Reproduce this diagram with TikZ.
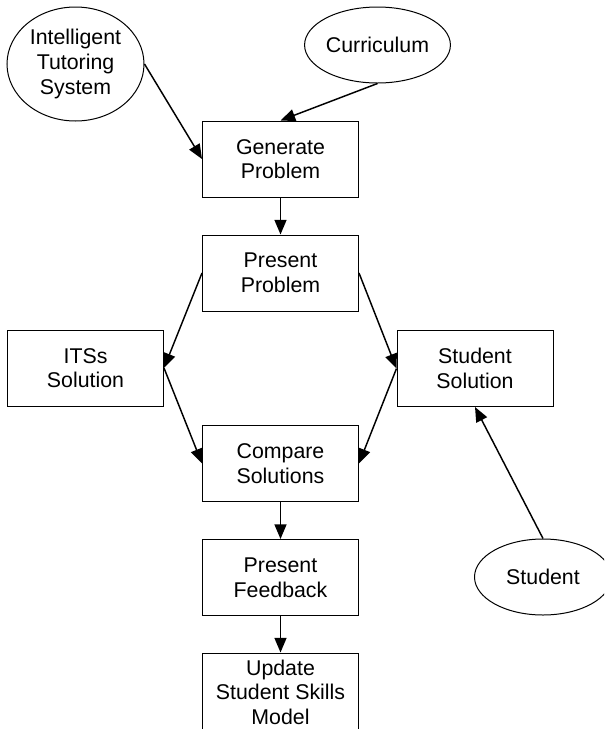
\documentclass[tikz,border=0pt]{standalone}
\usepackage{fontspec}
\setmainfont{Liberation Sans}
\usetikzlibrary{arrows.meta,shapes.geometric}
\begin{document}
\begin{tikzpicture}[x=0.75pt,y=-0.75pt,
  every node/.style={font=\fontsize{16}{18.4}\selectfont, align=center, inner sep=0pt},
  stepbox/.style={draw, line width=0.75pt, minimum width=117pt, minimum height=57pt},
  source/.style={draw, ellipse, line width=0.75pt, minimum width=102.75pt, minimum height=57pt},
  flow/.style={line width=1.1pt, -{Triangle[length=11pt,width=9pt]}}]
\useasboundingbox (0,0) rectangle (604,729);
\clip (0,0) rectangle (604,729);

% external sources
\node[source, minimum height=85.5pt] (its) at (75.5,64) {Intelligent\\Tutoring\\System};
\node[source] (curr) at (377.5,45) {Curriculum};
\node[source] (stu) at (543,577) {Student};

% process steps
\node[stepbox] (gen) at (280.5,159) {Generate\\Problem};
\node[stepbox] (pres) at (280.5,273) {Present\\Problem};
\node[stepbox] (itssol) at (85.5,368) {ITSs\\Solution};
\node[stepbox] (stusol) at (475,368.5) {Student\\Solution};
\node[stepbox] (cmp) at (280.5,463.5) {Compare\\Solutions};
\node[stepbox] (fb) at (280.5,577.5) {Present\\Feedback};
\node[stepbox, minimum height=58.5pt] (upd) at (280.5,692) {Update\\Student Skills\\Model};

% connectors
\draw[flow] (its.east) -- (gen.west);
\draw[flow] (curr.south) -- (gen.north);
\draw[flow] (gen) -- (pres);
\draw[flow] (pres.west) -- (itssol.east);
\draw[flow] (pres.east) -- (stusol.west);
\draw[flow] (itssol.east) -- (cmp.west);
\draw[flow] (stusol.west) -- (cmp.east);
\draw[flow] (stu.north) -- (stusol.south);
\draw[flow] (cmp) -- (fb);
\draw[flow] (fb) -- (upd);
\end{tikzpicture}
\end{document}
